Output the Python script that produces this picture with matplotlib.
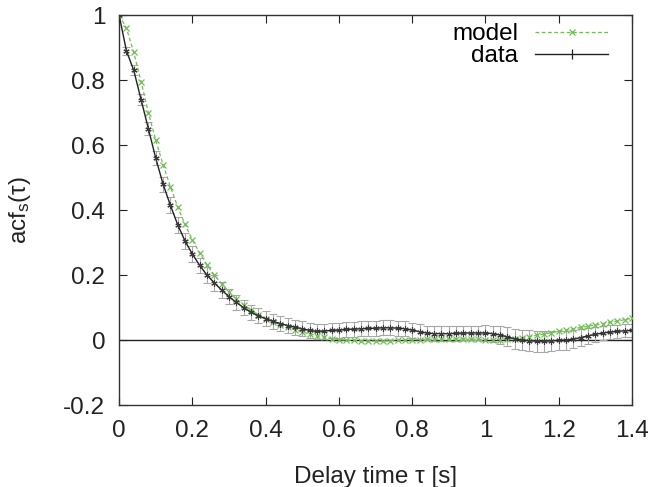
import numpy as np
import matplotlib
matplotlib.use("Agg")
import matplotlib.pyplot as plt
from matplotlib.lines import Line2D

plt.rcParams['font.family'] = ['Liberation Sans', 'DejaVu Sans']
plt.rcParams['mathtext.fontset'] = 'custom'
plt.rcParams['mathtext.rm'] = 'Liberation Sans'
plt.rcParams['mathtext.it'] = 'Liberation Sans'

tau = [round(0.02 * i, 2) for i in range(71)]

data_acf = [1.0, 0.89, 0.83, 0.74, 0.65, 0.56, 0.48, 0.415, 0.355, 0.305,
            0.265, 0.23, 0.20, 0.176, 0.154, 0.134, 0.116, 0.100, 0.086, 0.075,
            0.066, 0.058, 0.051, 0.045, 0.040, 0.035, 0.030, 0.027, 0.028, 0.030,
            0.031, 0.033, 0.034, 0.035, 0.036, 0.037, 0.038, 0.038, 0.037, 0.035,
            0.031, 0.026, 0.022, 0.020, 0.020, 0.020, 0.021, 0.022, 0.022, 0.022,
            0.022, 0.020, 0.016, 0.010, 0.004, 0.000, -0.002, -0.003, -0.003, -0.002,
            -0.001, 0.000, 0.003, 0.008, 0.013, 0.018, 0.022, 0.025, 0.027, 0.029,
            0.030]

data_err = [0.0, 0.012, 0.015, 0.018, 0.02, 0.022, 0.023, 0.024, 0.024, 0.024,
            0.024, 0.024, 0.024, 0.024, 0.024, 0.024, 0.023, 0.023, 0.023, 0.023,
            0.023, 0.023, 0.023, 0.023, 0.023, 0.023, 0.023, 0.023, 0.023, 0.023,
            0.023, 0.023, 0.023, 0.023, 0.023, 0.023, 0.023, 0.023, 0.023, 0.023,
            0.023, 0.023, 0.023, 0.023, 0.023, 0.023, 0.023, 0.023, 0.023, 0.023,
            0.024, 0.025, 0.027, 0.029, 0.030, 0.031, 0.032, 0.032, 0.032, 0.031,
            0.030, 0.029, 0.027, 0.026, 0.025, 0.024, 0.023, 0.022, 0.021, 0.020,
            0.020]

model_acf = [1.0, 0.96, 0.885, 0.795, 0.70, 0.615, 0.54, 0.472, 0.41, 0.356,
             0.308, 0.268, 0.232, 0.200, 0.173, 0.149, 0.127, 0.108, 0.092, 0.078,
             0.066, 0.056, 0.047, 0.039, 0.032, 0.025, 0.019, 0.014, 0.009, 0.005,
             0.002, 0.000, -0.001, -0.002, -0.003, -0.003, -0.003, -0.002, -0.001, 0.000,
             0.001, 0.002, 0.003, 0.003, 0.004, 0.004, 0.004, 0.004, 0.003, 0.003,
             0.002, 0.002, 0.002, 0.003, 0.005, 0.008, 0.011, 0.015, 0.019, 0.023,
             0.027, 0.031, 0.035, 0.039, 0.043, 0.047, 0.051, 0.055, 0.059, 0.063,
             0.067]

xticks = [0, 0.2, 0.4, 0.6, 0.8, 1.0, 1.2, 1.4]
xticklabels = ['0', '0.2', '0.4', '0.6', '0.8', '1', '1.2', '1.4']
yticks = [-0.2, 0, 0.2, 0.4, 0.6, 0.8, 1.0]
yticklabels = ['-0.2', '0', '0.2', '0.4', '0.6', '0.8', '1']

green = '#72bd55'
fs = 17.5
fig = plt.figure(figsize=(6.58, 4.87), dpi=100)
ax = fig.add_axes([0.181, 0.168, 0.7795, 0.801])

ax.axhline(0, color='#222222', lw=1.0, zorder=1)

ax.errorbar(tau, data_acf, yerr=data_err, fmt='none', ecolor='#a8a8a8',
            elinewidth=0.8, capsize=3, capthick=0.8, zorder=2)
ax.plot(tau, model_acf, color=green, ls=(0, (3, 2)), lw=0.9,
        marker='x', ms=5, mew=0.9, zorder=3)
ax.plot(tau, data_acf, color='#222222', lw=1.0,
        marker=(6, 2, 0), ms=4.5, mew=0.8, mec='#3a3a3a', zorder=4)

ax.set_xlim(0, 1.4)
ax.set_ylim(-0.2, 1.0)
ax.set_xticks(xticks)
ax.set_xticklabels(xticklabels)
ax.set_yticks(yticks)
ax.set_yticklabels(yticklabels)
ax.tick_params(direction='in', top=True, right=True, length=6, width=0.8,
               labelsize=fs, colors='#222222')
ax.tick_params(axis='x', pad=11)
ax.tick_params(axis='y', pad=10)
for s in ax.spines.values():
    s.set_linewidth(1.0)
    s.set_color('#333333')

ax.set_xlabel('Delay time τ [s]', fontsize=fs, color='#222222', labelpad=17)
ax.set_ylabel(r'acf$_\mathregular{s}$(τ)', fontsize=fs, color='#222222', labelpad=22)

handles = [Line2D([], [], color=green, ls=(0, (3, 2)), lw=0.9, marker='x', ms=5, mew=0.9),
           Line2D([], [], color='#222222', lw=1.0, marker='|', ms=7, mew=0.9)]
ax.legend(handles, ['model', 'data'], loc='upper right', frameon=False,
          markerfirst=False, fontsize=fs, handlelength=3.0, handletextpad=0.7,
          labelspacing=0.0, borderaxespad=0.1, bbox_to_anchor=(0.977, 1.01))

fig.savefig('out.png', dpi=100)
